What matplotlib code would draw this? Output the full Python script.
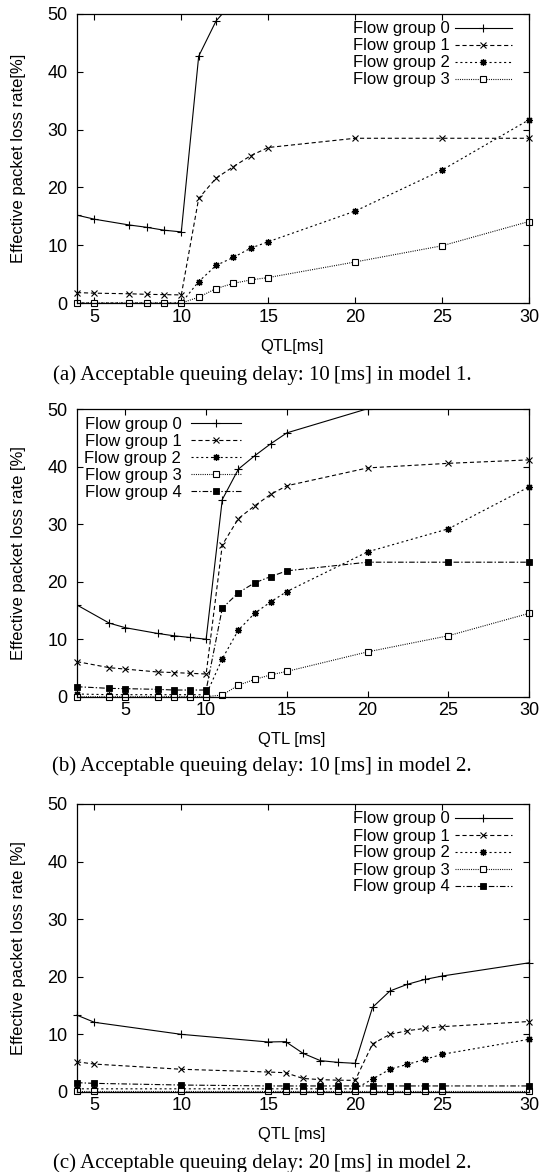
import matplotlib
matplotlib.use("Agg")
import matplotlib.pyplot as plt

plt.rcParams['font.family'] = ['Liberation Sans', 'DejaVu Sans']
plt.rcParams['lines.scale_dashes'] = False

# ---------------- data ----------------
# Panel (a): model 1, acceptable delay 10 ms
qtl_a = [4, 5, 7, 8, 9, 10, 11, 12, 13, 14, 15, 20, 25, 30]
a_g0 = [15.2, 14.5, 13.5, 13.1, 12.6, 12.3, 42.7, 48.8, 52.2, 54.0, 56.0, 60.0, 62.0, 63.0]
a_g1 = [1.8, 1.7, 1.6, 1.5, 1.45, 1.4, 18.1, 21.6, 23.6, 25.5, 26.9, 28.5, 28.5, 28.5]
a_g2 = [0, 0, 0, 0, 0, 0, 3.7, 6.5, 7.9, 9.5, 10.6, 15.9, 23.0, 31.7]
a_g3 = [0, 0, 0, 0, 0, 0, 1.0, 2.5, 3.4, 4.0, 4.4, 7.1, 9.9, 14.1]

# Panel (b): model 2, acceptable delay 10 ms
qtl_b = [2, 4, 5, 7, 8, 9, 10, 11, 12, 13, 14, 15, 20, 25, 30]
b_g0 = [15.95, 12.8, 12.0, 11.0, 10.6, 10.3, 10.0, 34.3, 39.6, 41.9, 44.0, 45.9, 50.1, 53.0, 55.0]
b_g1 = [6.1, 5.05, 4.8, 4.3, 4.2, 4.07, 3.95, 26.4, 31.0, 33.2, 35.2, 36.7, 39.8, 40.6, 41.2]
b_g2 = [0.47, 0.35, 0.35, 0.35, 0.35, 0.35, 0.35, 6.6, 11.6, 14.5, 16.5, 18.3, 25.2, 29.2, 36.5]
b_g3 = [0, 0, 0, 0, 0, 0, 0, 0.3, 2.0, 3.0, 3.8, 4.4, 7.8, 10.6, 14.5]
b_g4 = [1.74, 1.45, 1.4, 1.28, 1.16, 1.16, 1.16, 15.4, 18.1, 19.8, 20.9, 21.9, 23.4, 23.4, 23.4]

# Panel (c): model 2, acceptable delay 20 ms
qtl_c = [4, 5, 10, 15, 16, 17, 18, 19, 20, 21, 22, 23, 24, 25, 30]
c_g0 = [13.3, 12.06, 9.97, 8.64, 8.7, 6.67, 5.4, 5.1, 4.93, 14.66, 17.5, 18.66, 19.5, 20.1, 22.4]
c_g1 = [5.2, 4.8, 3.9, 3.42, 3.3, 2.3, 2.1, 2.0, 1.97, 8.3, 9.97, 10.6, 11.0, 11.3, 12.2]
c_g2 = [0.5, 0.5, 0.5, 0.5, 0.5, 0.5, 0.5, 0.5, 0.5, 2.2, 3.9, 4.75, 5.6, 6.5, 9.1]
c_g3 = [0.1, 0.1, 0.1, 0.1, 0.1, 0.1, 0.1, 0.1, 0.1, 0.1, 0.1, 0.1, 0.1, 0.1, 0.1]
c_g4 = [1.57, 1.45, 1.16, 1.0, 1.0, 1.0, 1.0, 1.0, 1.0, 1.0, 1.0, 1.0, 1.0, 1.0, 1.0]

group_labels = ["Flow group 0", "Flow group 1", "Flow group 2", "Flow group 3", "Flow group 4"]
y_ticks = [0, 10, 20, 30, 40, 50]
x_ticks = [5, 10, 15, 20, 25, 30]

# ---------------- styles ----------------
STY = [
    dict(linestyle='-', marker='+', markersize=5.5, mew=0.8),
    dict(linestyle=(0, (3, 2)), marker='x', markersize=4.5, mew=0.8),
    dict(linestyle=(0, (1.5, 2)), marker=(8, 2, 0), markersize=5, mew=0.9),
    dict(linestyle=(0, (0.7, 0.9)), marker='s', markersize=4.2, mew=0.8, mfc='white'),
    dict(linestyle=(0, (4, 1.5, 1, 1.5)), marker='s', markersize=4.5, mew=0.6),
]

W, H = 542, 1172
fig = plt.figure(figsize=(W / 100, H / 100), dpi=100)

def axrect(top_px, bot_px, left_px=77, right_px=529):
    return [left_px / W, 1 - bot_px / H, (right_px - left_px) / W, (bot_px - top_px) / H]

FS = 12
TFS = 13

def setup(ax, xmin, ylab, xlab):
    ax.set_xlim(xmin, 30)
    ax.set_ylim(0, 50)
    ax.set_xticks(x_ticks)
    ax.set_yticks(y_ticks)
    ax.tick_params(direction='in', length=4, width=0.8, top=True, right=True,
                   labelsize=TFS, pad=4)
    ax.tick_params(axis='y', pad=7)
    for s in ax.spines.values():
        s.set_linewidth(0.9)
    ax.set_ylabel(ylab, fontsize=FS)
    ax.yaxis.set_label_coords(-0.112, 0.5)
    ax.set_xlabel(xlab, fontsize=FS)
    ax.xaxis.set_label_coords(0.476, -0.124)

def draw(ax, x, series):
    handles = []
    for i, ys in enumerate(series):
        st = dict(STY[i])
        clip = max(ys) >= 50
        h, = ax.plot(x, ys, color='black', lw=0.8, clip_on=clip, **st)
        handles.append(h)
    return handles

LEG = dict(frameon=False, markerfirst=False, numpoints=1, fontsize=FS,
           labelspacing=0.12, borderaxespad=0.05)

# Panel (a)
ax1 = fig.add_axes(axrect(14, 303))
h = draw(ax1, qtl_a, [a_g0, a_g1, a_g2, a_g3])
setup(ax1, 4, "Effective packet loss rate[%]", "QTL[ms]")
ax1.legend(h, group_labels[:4], loc='upper right', bbox_to_anchor=(0.978, 1.0),
           handlelength=3.4, handletextpad=0.3, **LEG)

# Panel (b)
ax2 = fig.add_axes(axrect(409.3, 696.7))
h = draw(ax2, qtl_b, [b_g0, b_g1, b_g2, b_g3, b_g4])
setup(ax2, 2, "Effective packet loss rate [%]", "QTL [ms]")
ax2.legend(h, group_labels, loc='upper left', bbox_to_anchor=(0.0, 1.0),
           handlelength=3.0, handletextpad=0.6, **LEG)

# Panel (c)
ax3 = fig.add_axes(axrect(804, 1091.7))
h = draw(ax3, qtl_c, [c_g0, c_g1, c_g2, c_g3, c_g4])
setup(ax3, 4, "Effective packet loss rate [%]", "QTL [ms]")
ax3.legend(h, group_labels, loc='upper right', bbox_to_anchor=(0.978, 1.0),
           handlelength=3.4, handletextpad=0.3, **LEG)

captions = [
    ("(a) Acceptable queuing delay: 10\u2009[ms] in model 1.", 375),
    ("(b) Acceptable queuing delay: 10\u2009[ms] in model 2.", 766),
    ("(c) Acceptable queuing delay: 20\u2009[ms] in model 2.", 1163),
]
for txt, ypx in captions:
    fig.text(262 / W, 1 - ypx / H, txt, ha='center', va='center', fontsize=15,
             family=['Liberation Serif', 'DejaVu Serif'])

fig.savefig("out.png", dpi=100)
